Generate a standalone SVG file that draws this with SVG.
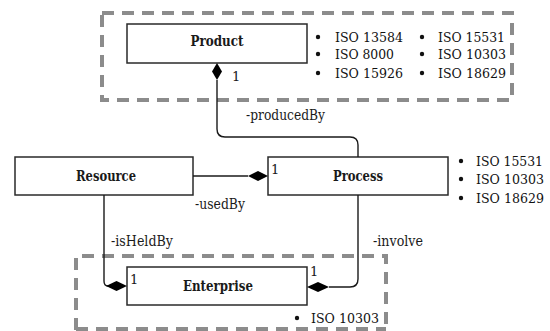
<svg xmlns="http://www.w3.org/2000/svg" width="550" height="331" viewBox="0 0 550 331">
  <style>
    text { font-family: 'DejaVu Serif', serif; }
    .frame { fill: none; stroke: #8c8c8c; stroke-width: 4; stroke-dasharray: 12 8; }
    .node rect { fill: #ffffff; stroke: #2a2a2a; stroke-width: 1.5; }
    .node text { font-size: 14px; font-weight: bold; fill: #1a1a1a; text-anchor: middle; }
    .edge { fill: none; stroke: #1a1a1a; stroke-width: 1.4; }
    .diamond { fill: #000000; stroke: none; }
    .lbl { font-size: 14px; fill: #1a1a1a; }
    .mult { font-size: 13px; fill: #1a1a1a; }
    .std { font-size: 13px; fill: #111111; }
    .dot { fill: #111111; }
  </style>

  <!-- dashed grouping frames -->
  <g id="frames">
    <rect class="frame" x="102" y="13" width="410" height="87"/>
    <path class="frame" d="M76,330 V256 H386 V331"/>
    <path class="frame" d="M76,329 H386"/>
  </g>

  <g id="product" class="node">
    <rect x="127" y="24" width="180" height="39"/>
    <text x="217" y="46" textLength="53" lengthAdjust="spacingAndGlyphs">Product</text>
  </g>

  <g id="resource" class="node">
    <rect x="15" y="157" width="178" height="38"/>
    <text x="106" y="181" textLength="60" lengthAdjust="spacingAndGlyphs">Resource</text>
  </g>

  <g id="process" class="node">
    <rect x="268" y="157" width="180" height="38"/>
    <text x="358" y="181" textLength="50" lengthAdjust="spacingAndGlyphs">Process</text>
  </g>

  <g id="enterprise" class="node">
    <rect x="127" y="267" width="180" height="38"/>
    <text x="218" y="291" textLength="70" lengthAdjust="spacingAndGlyphs">Enterprise</text>
  </g>

  <!-- associations -->
  <g id="connectors">
    <path class="edge" d="M217,80 V129 Q217,137 225,137 H350 Q358,137 358,145 V157"/>
    <polygon class="diamond" points="217,63 222,71.5 217,80 212,71.5"/>

    <path class="edge" d="M193,176 H248"/>
    <polygon class="diamond" points="248,176 258,171 268,176 258,181"/>

    <path class="edge" d="M104,195 V281 Q104,286 108,286"/>
    <polygon class="diamond" points="106,286 116.5,281 127,286 116.5,291"/>

    <path class="edge" d="M358,195 V279 Q358,287 350,287 H329"/>
    <polygon class="diamond" points="307,287 318,282 329,287 318,292"/>

    <text class="lbl" x="246" y="120" textLength="79" lengthAdjust="spacingAndGlyphs">-producedBy</text>
    <text class="lbl" x="195" y="209" textLength="50" lengthAdjust="spacingAndGlyphs">-usedBy</text>
    <text class="lbl" x="111" y="246" textLength="62" lengthAdjust="spacingAndGlyphs">-isHeldBy</text>
    <text class="lbl" x="373" y="246" textLength="50" lengthAdjust="spacingAndGlyphs">-involve</text>

    <text class="mult" x="232" y="81">1</text>
    <text class="mult" x="271" y="174">1</text>
    <text class="mult" x="130" y="284">1</text>
    <text class="mult" x="310" y="276">1</text>
  </g>

  <!-- standards lists -->
  <g id="product-standards">
    <circle class="dot" cx="318" cy="37" r="2.2"/>
    <circle class="dot" cx="318" cy="54" r="2.2"/>
    <circle class="dot" cx="318" cy="73" r="2.2"/>
    <text class="std" x="335" y="42" textLength="68" lengthAdjust="spacingAndGlyphs">ISO 13584</text>
    <text class="std" x="335" y="59" textLength="59" lengthAdjust="spacingAndGlyphs">ISO 8000</text>
    <text class="std" x="335" y="78" textLength="68" lengthAdjust="spacingAndGlyphs">ISO 15926</text>
    <circle class="dot" cx="422" cy="37" r="2.2"/>
    <circle class="dot" cx="422" cy="54" r="2.2"/>
    <circle class="dot" cx="422" cy="73" r="2.2"/>
    <text class="std" x="438" y="42" textLength="67" lengthAdjust="spacingAndGlyphs">ISO 15531</text>
    <text class="std" x="438" y="59" textLength="68" lengthAdjust="spacingAndGlyphs">ISO 10303</text>
    <text class="std" x="438" y="78" textLength="68" lengthAdjust="spacingAndGlyphs">ISO 18629</text>
  </g>

  <g id="process-standards">
    <circle class="dot" cx="461" cy="161" r="2.2"/>
    <circle class="dot" cx="461" cy="179" r="2.2"/>
    <circle class="dot" cx="461" cy="198" r="2.2"/>
    <text class="std" x="476" y="166" textLength="67" lengthAdjust="spacingAndGlyphs">ISO 15531</text>
    <text class="std" x="476" y="184" textLength="68" lengthAdjust="spacingAndGlyphs">ISO 10303</text>
    <text class="std" x="476" y="203" textLength="68" lengthAdjust="spacingAndGlyphs">ISO 18629</text>
  </g>

  <g id="enterprise-standards">
    <circle class="dot" cx="297" cy="318" r="2.2"/>
    <text class="std" x="311" y="323" textLength="68" lengthAdjust="spacingAndGlyphs">ISO 10303</text>
  </g>
</svg>
